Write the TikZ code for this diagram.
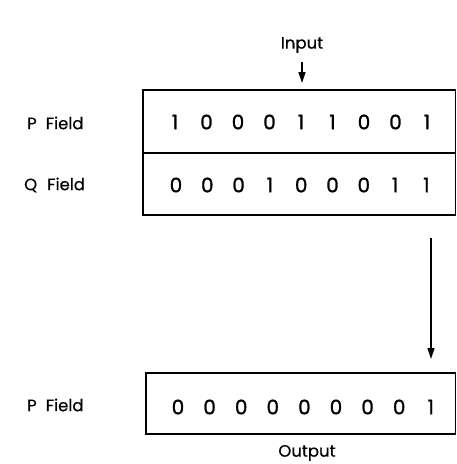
\documentclass[tikz,border=0pt]{standalone}
\usepackage{fontspec}
\setmainfont{Poppins}
\newfontfamily\digitfont{Poppins}[FakeBold=1.2]
\newfontfamily\labelfont{Poppins}[FakeBold=0.4]
\usetikzlibrary{arrows.meta}
\tikzset{
  lab/.style={font=\labelfont\fontsize{16.5}{18}\selectfont, inner sep=0pt},
  dig/.style={font=\digitfont\fontsize{20}{22}\selectfont, inner sep=0pt},
  reg/.style={draw, line width=1.8pt, inner sep=0pt},
  flow/.style={line width=1.3pt, -{Triangle[length=11pt,width=7pt]}}
}
\begin{document}
\begin{tikzpicture}[x=1pt,y=-1pt]
\useasboundingbox (0,0) rectangle (457,464);
% registers
\draw[reg] (143,90) rectangle (455.5,153);
\draw[reg] (143,153) rectangle (455.5,215);
\draw[reg] (146,373) rectangle (455.5,434);
\node[minimum width=312pt, minimum height=63pt, inner sep=0pt] (pbox) at (299.25,121.5) {};
\node[minimum width=312pt, minimum height=62pt, inner sep=0pt] (qbox) at (299.25,184) {};
\node[minimum width=309pt, minimum height=61pt, inner sep=0pt] (obox) at (300.75,403.5) {};
% labels
\node[lab] (input) at (302,45) {Input};
\node[lab] (output) at (307,453) {Output};
\node[lab, anchor=west] (pf1) at (27,123) {P\hspace{9pt}Field};
\node[lab, anchor=west] (qf) at (24,185) {Q\hspace{10pt}Field};
\node[lab, anchor=west] (pf2) at (27,405) {P\hspace{9pt}Field};
% digits
\foreach \d [count=\i from 0] in {1,0,0,0,1,1,0,0,1}
  \node[dig] (p\i) at (175+31.5*\i,122) {\d};
\foreach \d [count=\i from 0] in {0,0,0,1,0,0,0,1,1}
  \node[dig] (q\i) at (176+31.3*\i,185) {\d};
\foreach \d [count=\i from 0] in {0,0,0,0,0,0,0,0,1}
  \node[dig] (o\i) at (178+31.6*\i,407) {\d};
% arrows
\coordinate (a1e) at (302,90);
\draw[flow, shorten <=9pt, shorten >=7pt] (input.south) -- (a1e);
\coordinate (a2s) at (431,238);
\coordinate (a2e) at (431,359);
\draw[flow] (a2s) -- (a2e);
\end{tikzpicture}
\end{document}
